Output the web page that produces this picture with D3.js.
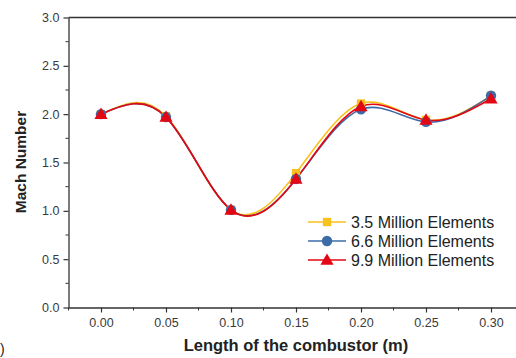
<!DOCTYPE html>
<html><head><meta charset="utf-8">
<script src="https://cdn.jsdelivr.net/npm/d3@7"></script>
<style>body{margin:0;background:#fff}svg{display:block}</style>
</head><body>
<svg id="c" width="516" height="358"></svg>
<script>
const xValues = [0.00, 0.05, 0.10, 0.15, 0.20, 0.25, 0.30];
const seriesNames = ["3.5 Million Elements", "6.6 Million Elements", "9.9 Million Elements"];
const series35 = [2.00, 1.98, 1.01, 1.39, 2.11, 1.94, 2.19];
const series66 = [2.00, 1.97, 1.01, 1.33, 2.05, 1.92, 2.19];
const series99 = [2.00, 1.97, 1.01, 1.33, 2.08, 1.94, 2.16];
const xTicks = [0.00, 0.05, 0.10, 0.15, 0.20, 0.25, 0.30];
const yTicks = [0.0, 0.5, 1.0, 1.5, 2.0, 2.5, 3.0];

const colors = ["#F7C21B", "#3B6CA8", "#E30613"];
const symbols = [d3.symbolSquare, d3.symbolCircle, d3.symbolTriangle];
const symSizes = [70, 85, 75];
const allSeries = [series35, series66, series99];
const font = "Arial, 'Liberation Sans', sans-serif";

const svg = d3.select("#c");
const x = d3.scaleLinear().domain([-0.025, 0.325]).range([68.5, 523.5]);
const y = d3.scaleLinear().domain([0, 3]).range([307.5, 17.5]);

const axisColor = "#333";
const xMinor = d3.range(-0.025, 0.326, 0.025).filter(v => Math.abs(Math.round(v/0.05)*0.05 - v) > 1e-6);
const yMinor = d3.range(0.25, 3.0, 0.5);

const gx = svg.append("g").attr("transform", "translate(0,307.5)");
gx.call(d3.axisBottom(x).tickValues(xTicks).tickFormat(d3.format(".2f")).tickSize(5).tickSizeOuter(0).tickPadding(6));
gx.selectAll(".minor").data(xMinor).enter().append("line")
  .attr("x1", d => x(d)).attr("x2", d => x(d)).attr("y1", 0).attr("y2", 3)
  .attr("stroke", axisColor);

const gy = svg.append("g").attr("transform", "translate(68.5,0)");
gy.call(d3.axisLeft(y).tickValues(yTicks).tickFormat(d3.format(".1f")).tickSize(5).tickSizeOuter(0).tickPadding(4));
gy.selectAll(".minor").data(yMinor).enter().append("line")
  .attr("y1", d => y(d)).attr("y2", d => y(d)).attr("x1", 0).attr("x2", -3)
  .attr("stroke", axisColor);

[gx, gy].forEach(g => {
  g.selectAll("path.domain").attr("stroke", axisColor).attr("stroke-width", 1.3);
  g.selectAll(".tick line").attr("stroke", axisColor).attr("stroke-width", 1.2);
  g.selectAll(".tick text").attr("fill", "#3a3a3a").style("font-family", font).style("font-size", "12.5px");
});
svg.append("line").attr("x1", 68.5).attr("x2", 516).attr("y1", 17.5).attr("y2", 17.5)
  .attr("stroke", axisColor).attr("stroke-width", 1.6);

const line = d3.line().x((d, i) => x(xValues[i])).y(d => y(d)).curve(d3.curveNatural);

allSeries.forEach((s, k) => {
  svg.append("path").datum(s).attr("d", line).attr("fill", "none")
    .attr("stroke", colors[k]).attr("stroke-width", 1.6);
});
allSeries.forEach((s, k) => {
  svg.append("g").selectAll("path").data(s).enter().append("path")
    .attr("d", d3.symbol().type(symbols[k]).size(symSizes[k]))
    .attr("transform", (d, i) => `translate(${x(xValues[i])},${y(d) + (k===2?1:0)})`)
    .attr("fill", colors[k]);
});

const lg = svg.append("g");
seriesNames.forEach((name, k) => {
  const yy = 222 + k * 19;
  lg.append("line").attr("x1", 308).attr("x2", 346).attr("y1", yy).attr("y2", yy)
    .attr("stroke", colors[k]).attr("stroke-width", 1.6);
  lg.append("path").attr("d", d3.symbol().type(symbols[k]).size(symSizes[k]))
    .attr("transform", `translate(327,${yy + (k===2?1:0)})`).attr("fill", colors[k]);
  lg.append("text").attr("x", 351).attr("y", yy + 6).text(name)
    .attr("fill", "#222").style("font-family", font).style("font-size", "16px");
});

svg.append("text").attr("x", 296).attr("y", 351).attr("text-anchor", "middle")
  .text("Length of the combustor (m)")
  .style("font-family", font).style("font-size", "16.5px").style("font-weight", "bold").attr("fill", "#222");
svg.append("text").attr("transform", "translate(26,162) rotate(-90)").attr("text-anchor", "middle")
  .text("Mach Number")
  .style("font-family", font).style("font-size", "15.5px").style("font-weight", "bold").attr("fill", "#222");
svg.append("text").attr("x", -12.5).attr("y", 354).text("(b)")
  .style("font-family", font).style("font-size", "14px").attr("fill", "#222");
</script>
</body></html>
